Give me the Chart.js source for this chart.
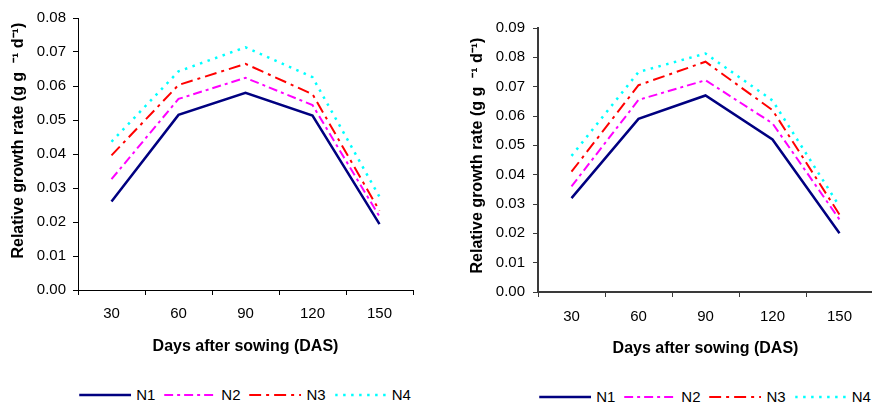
<!DOCTYPE html>
<html><head><meta charset="utf-8">
<script src="https://cdn.jsdelivr.net/npm/chart.js@4.4.1/dist/chart.umd.min.js"></script>
<style>
html,body{margin:0;padding:0;background:#fff;width:872px;height:402px;overflow:hidden;position:relative;font-family:"Liberation Sans",Arial,sans-serif}
.wrap{position:absolute;top:0}
canvas{display:block}
.legend{position:absolute;display:flex;align-items:center;white-space:nowrap;transform:translateX(-50%);font-size:15px;line-height:16px;color:#000}
.legend .item{display:flex;align-items:center;margin-right:9px}
.legend .item:last-child{margin-right:0}
.legend svg{margin-right:5px;display:block}
</style></head><body>
<div class="wrap" style="left:0"><canvas id="c1" width="416" height="360" style="width:416px;height:360px"></canvas></div>
<div class="wrap" style="left:436px"><canvas id="c2" width="437" height="362" style="width:437px;height:362px"></canvas></div>
<div class="legend" id="lg1" style="left:245px;top:387px"></div>
<div class="legend" id="lg2" style="left:705px;top:389px"></div>
<script>
// ---- data ----
const days = ['30', '60', '90', '120', '150'];
const seriesNames = ['N1', 'N2', 'N3', 'N4'];

const leftN1 = [0.0260, 0.0515, 0.0580, 0.0513, 0.0194];
const leftN2 = [0.0326, 0.0562, 0.0624, 0.0544, 0.0216];
const leftN3 = [0.0396, 0.0603, 0.0665, 0.0576, 0.0233];
const leftN4 = [0.0436, 0.0643, 0.0714, 0.0626, 0.0274];

const rightN1 = [0.0320, 0.0590, 0.0670, 0.0520, 0.0200];
const rightN2 = [0.0360, 0.0655, 0.0722, 0.0575, 0.0247];
const rightN3 = [0.0410, 0.0705, 0.0785, 0.0620, 0.0264];
const rightN4 = [0.0464, 0.0750, 0.0813, 0.0653, 0.0292];

const leftYMax = 0.08;
const rightYMax = 0.09;
const yStep = 0.01;

const xTitle = 'Days after sowing (DAS)';
const yTitle = 'Relative growth rate (g g  \u207B\u00B9 d\u207B\u00B9)';

// ---- styles ----
const styles = [
  {color: '#000080', dash: [], width: 2.5},
  {color: '#FF00FF', dash: [9, 4, 3, 4], width: 2},
  {color: '#FF0000', dash: [12, 5, 3, 5], width: 2},
  {color: '#00FFFF', dash: [2.5, 5.5], width: 2.5}
];

Chart.defaults.font.family = '"Liberation Sans", Arial, sans-serif';
Chart.defaults.color = '#000';

function makeChart(id, seriesList, yMax, cfg) {
  const datasets = seriesList.map((vals, i) => ({
    label: seriesNames[i],
    data: vals,
    borderColor: styles[i].color,
    backgroundColor: styles[i].color,
    borderDash: styles[i].dash,
    borderWidth: styles[i].width,
    pointRadius: 0,
    pointHoverRadius: 0,
    tension: 0,
    fill: false
  }));
  return new Chart(document.getElementById(id), {
    type: 'line',
    data: {labels: days, datasets: datasets},
    options: {
      responsive: false,
      animation: false,
      devicePixelRatio: 1,
      layout: {padding: {left: 0, top: cfg.padTop, right: cfg.padRight, bottom: 0}},
      plugins: {legend: {display: false}, tooltip: {enabled: false}},
      scales: {
        x: {
          type: 'category',
          offset: true,
          grid: {display: true, offset: true, drawOnChartArea: false, drawTicks: true, tickLength: 5, color: cfg.axisColor, lineWidth: 1},
          border: {display: true, color: cfg.axisColor, width: cfg.axisWidth},
          ticks: {font: {size: 15}, padding: cfg.xTickPad, maxRotation: 0, color: '#000'},
          title: {display: true, text: xTitle, font: {size: 16, weight: 'bold'}, padding: {top: 4, bottom: 4}, color: '#000'},
          afterFit: (s) => { s.height = 70; }
        },
        y: {
          min: 0,
          max: yMax,
          grid: {display: true, drawOnChartArea: false, drawTicks: true, tickLength: 5, color: cfg.axisColor, lineWidth: 1},
          border: {display: true, color: cfg.axisColor, width: cfg.axisWidth},
          ticks: {stepSize: yStep, font: {size: 15}, padding: cfg.yTickPad, color: '#000',
                  callback: (v) => Number(v).toFixed(2)},
          title: {display: true, text: cfg.yTitle, font: {size: 16, weight: 'bold'}, padding: {top: cfg.titlePadTop, bottom: 0}, color: '#000'},
          afterFit: (s) => { s.width = cfg.yWidth; }
        }
      }
    }
  });
}

makeChart('c1', [leftN1, leftN2, leftN3, leftN4], leftYMax, {
  padTop: 18, padRight: 3, axisColor: '#000', axisWidth: 1,
  xTickPad: 10, yTickPad: 7, yWidth: 78, titlePadTop: 8.7,
  yTitle: '      ' + yTitle
});
makeChart('c2', [rightN1, rightN2, rightN3, rightN4], rightYMax, {
  padTop: 28, padRight: 0, axisColor: '#3a3a3a', axisWidth: 2,
  xTickPad: 11, yTickPad: 8, yWidth: 102, titlePadTop: 32.4,
  yTitle: '  ' + yTitle
});

// ---- legends ----
function buildLegend(id) {
  const el = document.getElementById(id);
  seriesNames.forEach((name, i) => {
    const st = styles[i];
    const item = document.createElement('div');
    item.className = 'item';
    const svgNS = 'http://www.w3.org/2000/svg';
    const svg = document.createElementNS(svgNS, 'svg');
    svg.setAttribute('width', '52');
    svg.setAttribute('height', '6');
    const ln = document.createElementNS(svgNS, 'line');
    ln.setAttribute('x1', '0'); ln.setAttribute('x2', '52');
    ln.setAttribute('y1', '3'); ln.setAttribute('y2', '3');
    ln.setAttribute('stroke', st.color);
    ln.setAttribute('stroke-width', st.width);
    if (st.dash.length) ln.setAttribute('stroke-dasharray', st.dash.join(' '));
    svg.appendChild(ln);
    const txt = document.createElement('span');
    txt.textContent = name;
    item.appendChild(svg);
    item.appendChild(txt);
    el.appendChild(item);
  });
}
buildLegend('lg1');
buildLegend('lg2');
</script>
</body></html>
